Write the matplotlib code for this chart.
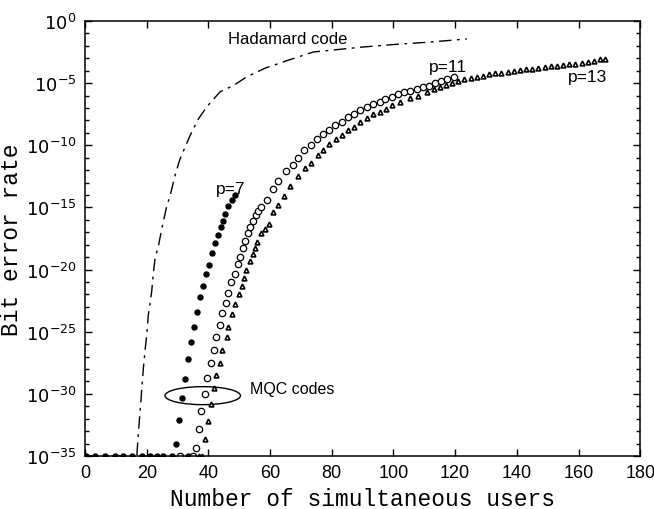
import matplotlib
matplotlib.use("Agg")
import matplotlib.pyplot as plt
from matplotlib.patches import Ellipse
from matplotlib import font_manager
import numpy as np

# valori (esponenti di 10)
had_x = [0, 16.8, 17.3, 18.1, 18.4, 18.9, 19.5, 20.0, 20.5, 21.6, 22.2, 22.7, 23.8, 24.9,
         26.5, 27.6, 29.2, 30.8, 34.1, 36.7, 39.5, 43.8, 48.1, 52.4, 58.4, 65.4, 74.0,
         90.0, 100.0, 111.9, 123.8]
had_log = [-35, -35, -33.1, -30.65, -29.6, -28.0, -26.4, -25.3, -23.7, -21.8, -20.2, -19.1,
           -18.1, -16.7, -14.9, -14.05, -12.4, -11.1, -9.2, -7.9, -6.9, -5.7, -5.2, -4.5,
           -3.8, -3.2, -2.5, -2.1, -1.9, -1.7, -1.45]

p7_x = [0.3, 3.2, 6.5, 9.7, 12.3, 15.2, 18.4, 21.1, 23.3, 25.4, 28.1, 33.5,
        29.6, 30.6, 31.6, 32.4, 33.5, 34.4, 35.4, 36.4, 37.3, 38.4, 39.2, 40.3, 41.3,
        42.0, 43.0, 44.1, 44.8, 45.5, 46.3, 47.6, 48.7]
p7_log = [-35, -35, -35, -35, -35, -35, -35, -35, -35, -35, -35, -35,
          -34.0, -32.1, -30.3, -28.8, -27.2, -25.8, -24.6, -23.4, -22.2, -21.3, -20.4,
          -19.6, -18.7, -17.9, -17.2, -16.6, -16.1, -15.5, -14.9, -14.4, -14.0]

p11_x = [30.8, 35.1, 36.0, 37.0, 37.6, 38.8, 39.7, 40.8, 41.8, 42.5, 43.8, 44.5, 45.6,
         46.5, 47.3, 48.7, 49.5, 50.3, 51.1, 51.9, 52.8, 53.5, 54.6, 55.4, 56.2, 57.0,
         58.9, 60.9, 62.7, 65.2, 67.4, 69.2, 71.1, 73.2, 75.2, 77.3, 79.2, 81.1, 83.3,
         85.4, 87.3, 89.2, 91.4, 93.3, 95.5, 97.3, 99.5, 101.3, 103.5, 105.4, 107.6,
         109.5, 111.5, 113.5, 115.5, 117.5, 119.5]
p11_log = [-35, -35, -34.35, -32.8, -31.35, -30.0, -28.7, -27.5, -26.5, -25.4, -24.5, -23.5,
           -22.7, -21.9, -21.0, -20.35, -19.55, -19.0, -18.3, -17.7, -17.1, -16.6, -16.1,
           -15.6, -15.3, -15.0, -14.4, -13.5, -12.9, -12.1, -11.6, -11.05, -10.4, -10.0,
           -9.5, -9.1, -8.75, -8.4, -8.1, -7.75, -7.5, -7.2, -6.9, -6.7, -6.5, -6.3, -6.1,
           -5.9, -5.7, -5.6, -5.5, -5.35, -5.2, -5.0, -4.85, -4.7, -4.55]

p13_x = [36.8, 37.8, 38.9, 39.8, 40.9, 41.9, 42.5, 43.8, 44.5, 46.0, 46.3, 47.6, 48.7,
         50.0, 50.8, 51.5, 52.2, 53.5, 54.3, 55.1, 55.7, 57.1, 58.4, 59.5, 60.9, 62.7,
         64.6, 66.5, 69.2, 71.4, 73.3, 75.5, 77.3, 79.2, 81.4, 83.3, 85.2, 87.3, 89.2,
         91.4, 93.3, 95.5, 97.6, 99.5, 102.2, 105.2, 108.1, 110.8, 113, 115, 117, 119,
         121, 123, 125, 127, 129, 131, 133, 135, 137, 139, 141, 143, 145, 147, 149, 151,
         153, 155, 157, 159, 161, 163, 165, 167, 168.7]
p13_log = [-35, -35, -33.6, -32.2, -30.8, -29.55, -28.5, -27.5, -26.5, -25.4, -24.6, -23.6,
           -22.8, -22.0, -21.3, -20.7, -20.0, -19.3, -18.75, -18.3, -17.75, -17.1, -16.7,
           -16.3, -15.4, -14.8, -14.1, -13.3, -12.5, -11.85, -11.4, -10.8, -10.4, -9.9,
           -9.5, -9.2, -8.8, -8.5, -8.15, -7.8, -7.5, -7.3, -7.1, -6.8, -6.5, -6.2, -6.0,
           -5.7, -5.45, -5.3, -5.15, -5.0, -4.85, -4.7, -4.6, -4.5, -4.4, -4.3, -4.22,
           -4.15, -4.08, -4.0, -3.95, -3.9, -3.85, -3.78, -3.72, -3.66, -3.6, -3.55, -3.5,
           -3.45, -3.38, -3.3, -3.2, -3.1, -3.05]

x_ticks = [0, 20, 40, 60, 80, 100, 120, 140, 160, 180]
y_exps = [0, -5, -10, -15, -20, -25, -30, -35]

nomi = {f.name for f in font_manager.fontManager.ttflist}
font_tick = 'Liberation Sans Narrow' if 'Liberation Sans Narrow' in nomi else 'Liberation Sans'
font_lab = 'Liberation Mono'

plt.rcParams['mathtext.fontset'] = 'custom'
plt.rcParams['mathtext.rm'] = font_tick
plt.rcParams['mathtext.it'] = font_tick
plt.rcParams['mathtext.bf'] = font_tick

fig = plt.figure(figsize=(6.54, 5.10), dpi=100)
ax = fig.add_axes([0.130, 0.104, 0.849, 0.853])

ax.plot(had_x, 10.0 ** np.array(had_log), color='black', lw=1.0,
        dashes=(9, 4, 2, 4))
ax.plot(p7_x, 10.0 ** np.array(p7_log), 'o', color='black', ms=3.6, ls='none')
ax.plot(p11_x, 10.0 ** np.array(p11_log), 'o', mfc='white', mec='black', mew=0.9,
        ms=4.6, ls='none')
ax.plot(p13_x, 10.0 ** np.array(p13_log), '^', mfc='white', mec='black', mew=1.2,
        ms=3.4, ls='none')

ax.set_yscale('log')
ax.set_xlim(0, 180)
ax.set_ylim(1e-35, 1e0)
ax.set_xticks(x_ticks)
ax.set_xticklabels([str(v) for v in x_ticks], fontname=font_tick, fontsize=13)
ax.set_yticks([10.0 ** e for e in y_exps])
ax.set_yticklabels([r'$\mathregular{10^{%d}}$' % e for e in y_exps], fontsize=13)
ax.yaxis.set_minor_locator(matplotlib.ticker.FixedLocator([10.0 ** e for e in range(-35, 1)]))
ax.yaxis.set_minor_formatter(matplotlib.ticker.NullFormatter())
ax.tick_params(which='both', direction='in', top=True, right=True, width=1)
ax.tick_params(which='major', length=5, pad=6)
ax.tick_params(which='minor', length=3)
for s in ax.spines.values():
    s.set_linewidth(1.1)

ax.set_xlabel('Number of simultaneous users', fontname=font_lab, fontsize=16.5, labelpad=4)
ax.set_ylabel('Bit error rate', fontname=font_lab, fontsize=16.5, labelpad=2)

ax.text(46.4, 10 ** -1.45, 'Hadamard code', fontname='Liberation Sans', fontsize=12,
        va='center', ha='left')
ax.text(47.3, 10 ** -13.45, 'p=7', fontname='Liberation Sans', fontsize=12.5,
        va='center', ha='center')
ax.text(117.7, 10 ** -3.7, 'p=11', fontname='Liberation Sans', fontsize=12.5,
        va='center', ha='center')
ax.text(162.8, 10 ** -4.47, 'p=13', fontname='Liberation Sans', fontsize=12.5,
        va='center', ha='center')
ax.text(53.5, 10 ** -29.6, 'MQC codes', fontname='Liberation Sans', fontsize=11.5,
        va='center', ha='left')
ax.add_patch(Ellipse((0.212, 0.1386), 0.136, 0.0414, transform=ax.transAxes,
                     fill=False, edgecolor='black', lw=1.0))

plt.savefig('out.png', dpi=100)
plt.close()
